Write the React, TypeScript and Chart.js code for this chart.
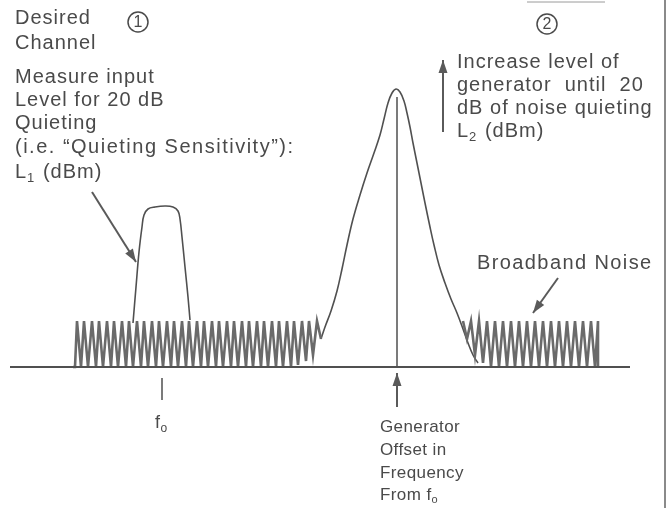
import React, { useEffect, useRef } from "react";
import { Chart, registerables } from "chart.js";

Chart.register(...registerables);

// Frequency (x) and level above the noise floor (y) pairs
const baseline: [number, number][] = [[10, 0], [630, 0]];

const noiseLeft: [number, number][] = [
  [73, 0], [75, 0], [77, 46], [81, 0], [84, 46], [88, 0], [92, 46], [96, 0], [99, 46], [103, 0],
  [107, 46], [111, 0], [114, 46], [118, 0], [122, 46], [126, 0], [129, 46], [133, 0], [137, 46], [141, 0],
  [144, 46], [148, 0], [152, 46], [156, 0], [159, 46], [163, 0], [167, 46], [171, 0], [174, 46], [178, 0],
  [182, 46], [186, 0], [189, 46], [193, 0], [197, 46], [201, 0], [204, 46], [208, 0], [212, 46], [216, 0],
  [219, 46], [223, 0], [227, 46], [231, 0], [234, 46], [238, 0], [242, 46], [246, 0], [249, 46], [253, 0],
  [257, 46], [261, 0], [264, 46], [268, 0], [272, 46], [276, 0], [279, 46], [283, 0], [287, 46], [291, 0],
  [294, 46], [298, 2], [302, 46], [306, 6], [309, 46], [313, 12], [317, 46], [321, 28],
];

const noiseRight: [number, number][] = [
  [463, 46], [467, 28], [471, 46], [475, 12], [479, 46], [483, 4], [487, 46], [491, 0], [495, 46], [499, 0],
  [503, 46], [507, 0], [511, 46], [515, 0], [519, 46], [523, 0], [527, 46], [531, 0], [535, 46], [539, 0],
  [543, 46], [547, 0], [551, 46], [555, 0], [559, 46], [563, 0], [567, 46], [571, 0], [575, 46], [579, 0],
  [583, 46], [587, 0], [591, 46], [595, 0], [598, 46], [598, 0],
];

const generatorPeak: [number, number][] = [
  [321, 28], [325, 40], [331, 56], [337, 76], [342, 98], [347, 122], [353, 148], [360, 172], [367, 194],
  [374, 214], [380, 232], [384, 248], [388, 264], [392, 274], [396, 278], [400, 275], [404, 266], [407, 254],
  [410, 240], [413, 224], [417, 204], [421, 184], [425, 164], [430, 140], [434, 122], [439, 102], [445, 84],
  [451, 68], [457, 54], [463, 38], [468, 24], [473, 12], [478, 4],
];

const peakCentre: [number, number][] = [[397, 270], [397, 0]];

const desiredChannel: [number, number][] = [
  [133, 44], [136, 80], [139, 115], [142, 140], [144, 152], [148, 158], [155, 160], [165, 161],
  [173, 160], [178, 156], [180, 148], [182, 130], [185, 100], [188, 70], [190, 47],
];

const foTick: [number, number][] = [[162, -11], [162, -33]];

const arrowChannel: [number, number][] = [[92, 175], [136, 105]];
const arrowNoise: [number, number][] = [[558, 89], [533, 54]];
const arrowIncrease: [number, number][] = [[443, 235], [443, 307]];
const arrowGenerator: [number, number][] = [[397, -40], [397, -6]];

const textBlock1 = [
  "Desired",
  "Channel",
  "Measure input",
  "Level for 20 dB",
  "Quieting",
  "(i.e. \u201CQuieting Sensitivity\u201D):",
];
const textBlock2 = ["Increase level of", "generator  until  20", "dB of noise quieting"];
const textGenerator = ["Generator", "Offset in", "Frequency"];

const LINE = "#505050";
const NOISE = "#6a6a6a";
const TEXT = "#4a4a4a";
const FONT = '"Liberation Sans", Arial, sans-serif';

const toPts = (arr: [number, number][]) => arr.map(([x, y]) => ({ x, y }));

const annotate = {
  id: "annotate",
  beforeDraw(chart: any) {
    const { ctx, width, height } = chart;
    ctx.save();
    ctx.fillStyle = "#ffffff";
    ctx.fillRect(0, 0, width, height);
    ctx.restore();
  },
  afterDatasetsDraw(chart: any) {
    const ctx = chart.ctx;
    chart.data.datasets.forEach((ds: any, i: number) => {
      if (!ds.arrow) return;
      const meta = chart.getDatasetMeta(i);
      const n = meta.data.length;
      const a = meta.data[n - 2];
      const b = meta.data[n - 1];
      const ang = Math.atan2(b.y - a.y, b.x - a.x);
      const len = 13;
      const half = 4.5;
      ctx.save();
      ctx.fillStyle = ds.borderColor;
      ctx.translate(b.x, b.y);
      ctx.rotate(ang);
      ctx.beginPath();
      ctx.moveTo(0, 0);
      ctx.lineTo(-len, -half);
      ctx.lineTo(-len, half);
      ctx.closePath();
      ctx.fill();
      ctx.restore();
    });
  },
  afterDraw(chart: any) {
    const ctx = chart.ctx;
    ctx.save();
    ctx.fillStyle = TEXT;
    ctx.strokeStyle = TEXT;
    ctx.textBaseline = "middle";
    ctx.textAlign = "left";

    const setFont = (size: number, ls: number) => {
      ctx.font = `${size}px ${FONT}`;
      (ctx as any).letterSpacing = `${ls}px`;
    };

    const sub = (x: number, y: number, main: string, s: string, rest: string, size = 20, ls = 1) => {
      setFont(size, ls);
      ctx.fillText(main, x, y);
      let w = ctx.measureText(main).width;
      setFont(Math.round(size * 0.65), ls);
      ctx.fillText(s, x + w, y + size * 0.3);
      w += ctx.measureText(s).width;
      setFont(size, ls);
      if (rest) ctx.fillText(rest, x + w + 1, y);
    };

    const ys1 = [18, 43, 77, 100, 123, 147];
    textBlock1.forEach((t, i) => {
      setFont(20, i === 5 ? 1.5 : 1);
      ctx.fillText(t, 15, ys1[i]);
    });
    sub(15, 172, "L", "1", " (dBm)");

    const ys2 = [62, 85, 108];
    setFont(20, 1);
    textBlock2.forEach((t, i) => ctx.fillText(t, 457, ys2[i]));
    sub(457, 131, "L", "2", " (dBm)");

    setFont(20, 1.4);
    ctx.fillText("Broadband Noise", 477, 263);

    const ysG = [427, 450, 473];
    setFont(17, 0.4);
    textGenerator.forEach((t, i) => ctx.fillText(t, 380, ysG[i]));
    sub(380, 495, "From f", "o", "", 17, 0.4);

    sub(155, 423, "f", "o", "", 18, 0.4);

    const circ = (cx: number, cy: number, s: string) => {
      ctx.lineWidth = 1.5;
      ctx.beginPath();
      ctx.arc(cx, cy, 10, 0, Math.PI * 2);
      ctx.stroke();
      setFont(16, 0);
      ctx.textAlign = "center";
      ctx.fillText(s, cx, cy + 1);
      ctx.textAlign = "left";
    };
    circ(138, 22, "1");
    circ(547, 24, "2");

    ctx.strokeStyle = "#8a8a8a";
    ctx.lineWidth = 2;
    ctx.beginPath();
    ctx.moveTo(665, 0);
    ctx.lineTo(665, 508);
    ctx.stroke();
    ctx.strokeStyle = "#9a9a9a";
    ctx.lineWidth = 1;
    ctx.beginPath();
    ctx.moveTo(527, 2);
    ctx.lineTo(605, 2);
    ctx.stroke();
    ctx.restore();
  },
};

export default function App() {
  const ref = useRef<HTMLCanvasElement>(null);
  useEffect(() => {
    if (!ref.current) return;
    const line = (data: [number, number][], color: string, width: number, extra: any = {}) => ({
      data: toPts(data),
      showLine: true,
      borderColor: color,
      backgroundColor: color,
      borderWidth: width,
      pointRadius: 0,
      tension: 0,
      fill: false,
      ...extra,
    });
    const chart = new Chart(ref.current, {
      type: "scatter",
      data: {
        datasets: [
          line(baseline, LINE, 2),
          line(noiseLeft, NOISE, 2.6),
          line(noiseRight, NOISE, 2.6),
          line(generatorPeak, LINE, 1.6, { tension: 0.4 }),
          line(peakCentre, LINE, 1.5),
          line(desiredChannel, LINE, 1.6, { tension: 0.4 }),
          line(foTick, LINE, 1.5),
          line(arrowChannel, "#5a5a5a", 2, { arrow: true }),
          line(arrowNoise, "#5a5a5a", 2, { arrow: true }),
          line(arrowIncrease, "#5a5a5a", 2, { arrow: true }),
          line(arrowGenerator, "#5a5a5a", 2, { arrow: true }),
        ] as any,
      },
      options: {
        animation: false,
        responsive: false,
        events: [],
        layout: { padding: 0 },
        plugins: { legend: { display: false }, tooltip: { enabled: false } },
        scales: {
          x: { type: "linear", min: 0, max: 667, display: false },
          y: { type: "linear", min: -141, max: 367, display: false },
        },
      },
      plugins: [annotate],
    });
    return () => chart.destroy();
  }, []);
  return (
    <div style={{ position: "absolute", left: 0, top: 0, width: 667, height: 508, background: "#fff" }}>
      <canvas ref={ref} width={667} height={508} style={{ display: "block" }} />
    </div>
  );
}
